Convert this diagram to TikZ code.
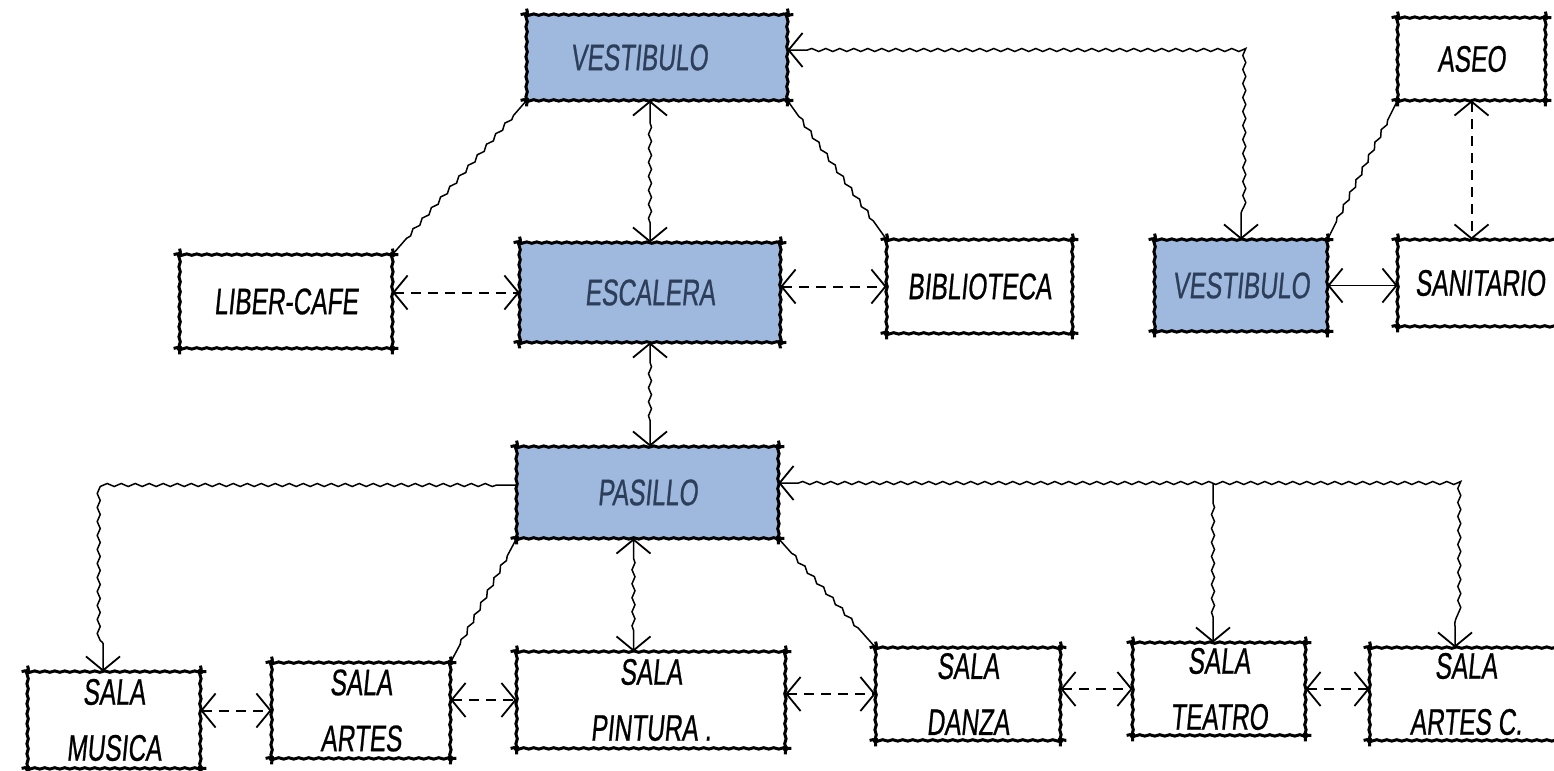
\documentclass[tikz,border=0pt]{standalone}
\usepackage{fontspec}
\usetikzlibrary{arrows.meta,decorations.pathmorphing}
\newfontfamily\hand[FakeStretch=0.66,FakeSlant=0.1,FakeBold=0.6]{Liberation Sans}
\definecolor{boxblue}{RGB}{158,185,221}
\definecolor{inkblue}{RGB}{45,62,90}
\tikzset{
  bx/.style={draw=none, inner sep=0pt, font=\hand\fontsize{18.5}{28}\selectfont, align=center},
  hl/.style={fill=boxblue, text=inkblue},
  edge/.style={line width=1.5pt, decorate, decoration={snake, amplitude=0.35pt, segment length=5pt}},
  wav/.style={line width=0.75pt, decorate, decoration={snake, amplitude=0.75pt, segment length=7pt, pre length=10pt, post length=10pt}},
  dsh/.style={line width=1pt, dash pattern=on 5pt off 3.5pt},
  sol/.style={line width=0.9pt},
  >={Straight Barb[length=7pt,width=17pt,line width=0.9pt]},
}
\newcommand\Bx[7]{\node[bx,#6,minimum width={(#4-#2)*0.5pt},minimum height={(#5-#3)*0.5pt}] (#1) at ({(#2+#4)/2},{(#3+#5)/2}) {#7};}
\begin{document}
\begin{tikzpicture}[x=0.5pt,y=-0.5pt]
\useasboundingbox (0,0) rectangle (1554,771);
\fill[white] (0,0) rectangle (1554,771);
\clip (0,0) rectangle (1554,771);
% boxes
\Bx{v1}{527}{15}{787}{100}{hl}{VESTIBULO\hspace*{18pt}}
\Bx{lc}{180}{255}{392}{348}{}{LIBER-CAFE}
\Bx{esc}{520}{243}{780}{342}{hl}{ESCALERA}
\Bx{bib}{887}{240}{1072}{333}{}{BIBLIOTECA}
\Bx{v2}{1155}{240}{1327}{331}{hl}{VESTIBULO}
\Bx{aseo}{1398}{18}{1545}{100}{}{ASEO}
\Bx{san}{1398}{240}{1562}{326}{}{SANITARIO}
\Bx{pas}{517}{447}{778}{538}{hl}{PASILLO}
\Bx{mus}{28}{672}{200}{768}{}{SALA\\MUSICA}
\Bx{art}{272}{663}{450}{758}{}{SALA\\ARTES}
\Bx{pin}{517}{652}{785}{748}{}{SALA\\PINTURA .}
\Bx{dan}{876}{648}{1060}{740}{}{SALA\\DANZA}
\Bx{tea}{1133}{643}{1305}{735}{}{SALA\\TEATRO}
\Bx{arc}{1370}{648}{1562}{740}{}{SALA\\ARTES C.}
% sketchy outlines
\foreach \n in {v1,lc,esc,bib,v2,aseo,san,pas,mus,art,pin,dan,tea,arc}{
  \draw[edge] ([xshift=-3pt]\n.north west) -- ([xshift=3pt]\n.north east);
  \draw[edge] ([xshift=-3pt]\n.south west) -- ([xshift=3pt]\n.south east);
  \draw[edge] ([yshift=3pt]\n.north west) -- ([yshift=-3pt]\n.south west);
  \draw[edge] ([yshift=3pt]\n.north east) -- ([yshift=-3pt]\n.south east);
  \foreach \c in {north west,north east,south west,south east}{\fill (\n.\c) circle (1.5pt);}
}
% helper coordinates
\coordinate (c1) at (1241,50);
\coordinate (c2) at (103,485);
\coordinate (c3) at (1455,483);
\coordinate (c4) at (1213,483);
% top part
\draw[wav] (v1.south west) -- (lc.north east);
\draw[wav] (v1.south east) -- (bib.north west);
\draw[wav,<->] (esc.north) -- (esc.north |- v1.south);
\draw[wav,<->] (v1.east |- c1) -- (c1) -- (v2.north -| c1);
\draw[dsh,<->] (esc.west -| lc.east) -- (esc.west);
\draw[dsh,<->] (esc.east |- bib.west) -- (bib.west);
\draw[wav] (v2.north east) -- (aseo.south west);
\draw[dsh,<->] (aseo.south) -- (aseo.south |- san.north);
\draw[sol,<->] (v2.east) -- (v2.east -| san.west);
% middle
\draw[wav,<->] (esc.south) -- (esc.south |- pas.north);
% bottom part
\draw[wav,->] (pas.west |- c2) -- (c2) -- (mus.north -| c2);
\draw[wav] (pas.south west) -- (art.north east);
\draw[wav,<->] ([xshift=-7pt]pas.south) -- ([xshift=-7pt]pas.south |- pin.north);
\draw[wav] (pas.south east) -- (dan.north west);
\draw[wav,<->] (pas.east |- c3) -- (c3) -- (arc.north -| c3);
\draw[wav,->] (c4) -- (tea.north -| c4);
\draw[dsh,<->] (mus.east |- art.west) -- (art.west);
\draw[dsh,<->] (art.east |- pin.west) -- (pin.west);
\draw[dsh,<->] (pin.east |- dan.west) -- (dan.west);
\draw[dsh,<->] (dan.east |- tea.west) -- (tea.west);
\draw[dsh,<->] (tea.east) -- (tea.east -| arc.west);
\end{tikzpicture}
\end{document}
